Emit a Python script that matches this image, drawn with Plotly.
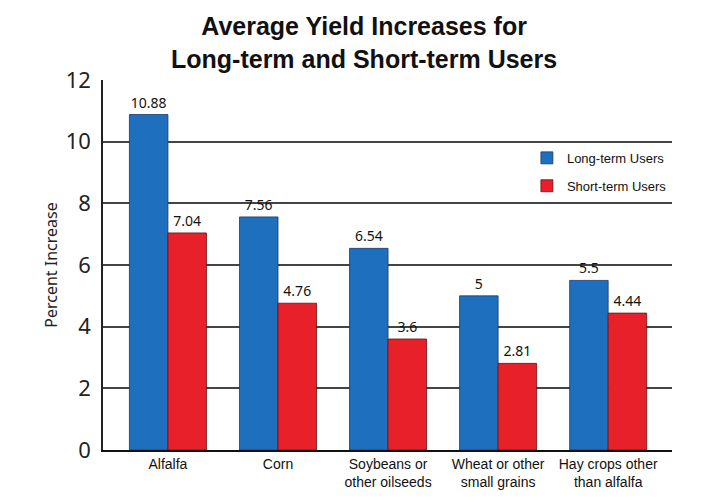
import plotly.graph_objects as go

categories = ["Alfalfa", "Corn", "Soybeans or<br>other oilseeds", "Wheat or other<br>small grains", "Hay crops other<br>than alfalfa"]
long_term = [10.88, 7.56, 6.54, 5, 5.5]
short_term = [7.04, 4.76, 3.6, 2.81, 4.44]
y_ticks = [0, 2, 4, 6, 8, 10, 12]

narrow = "Liberation Sans Narrow, Arial Narrow, Liberation Sans, Arial, sans-serif"
myriad = "Noto Sans, Open Sans, sans-serif"

x_idx = list(range(len(categories)))

fig = go.Figure()
fig.add_trace(go.Bar(
    x=x_idx, y=long_term, name="Long-term Users", legendgroup="a",
    marker=dict(color="#1f6fbf", line=dict(color="#1a3a66", width=0.8)),
    text=[str(v) for v in long_term], textposition="outside",
    textfont=dict(family=myriad, size=14, color="#111"), cliponaxis=False,
))
fig.add_trace(go.Bar(
    x=x_idx, y=short_term, name="Short-term Users", legendgroup="b",
    marker=dict(color="#e8202a", line=dict(color="#6a1010", width=0.8)),
    text=[str(v) for v in short_term], textposition="outside",
    textfont=dict(family=myriad, size=14, color="#111"), cliponaxis=False,
))

fig.update_layout(
    width=720, height=494,
    margin=dict(l=95, r=56, t=72, b=52, autoexpand=False),
    paper_bgcolor="white", plot_bgcolor="white",
    barmode="group", bargap=0.3, bargroupgap=0,
    annotations=[dict(
        text="<b>Average Yield Increases for<br>Long-term and Short-term Users</b>",
        x=0.5, xref="paper", y=1.19, yref="paper", xanchor="center", yanchor="top",
        xshift=-24,
        showarrow=False, align="center",
        font=dict(family=narrow, size=25, color="#111"),
    )],
    legend=dict(
        x=0.745, xanchor="left", y=0.83, yanchor="top",
        font=dict(family=narrow, size=13, color="#111"),
        bgcolor="rgba(0,0,0,0)", tracegroupgap=8,
    ),
    xaxis=dict(
        range=[-0.59, 4.58], tickmode="array", tickvals=x_idx, ticktext=categories,
        showline=True, linecolor="#111", linewidth=2, showgrid=False,
        tickfont=dict(family=narrow, size=14, color="#111"),
        ticks="", fixedrange=True,
    ),
    yaxis=dict(
        range=[0, 12], tickvals=y_ticks, showline=True, linecolor="#222", linewidth=1.5,
        showgrid=True, gridcolor="#444", gridwidth=1.5, zeroline=False,
        ticks="outside", ticklen=6, tickcolor="rgba(0,0,0,0)",
        tickfont=dict(family=myriad, size=22, color="#222"),
        title=dict(text="Percent Increase", font=dict(family=myriad, size=16, color="#222"), standoff=4),
    ),
)

fig.write_html("out.html")
